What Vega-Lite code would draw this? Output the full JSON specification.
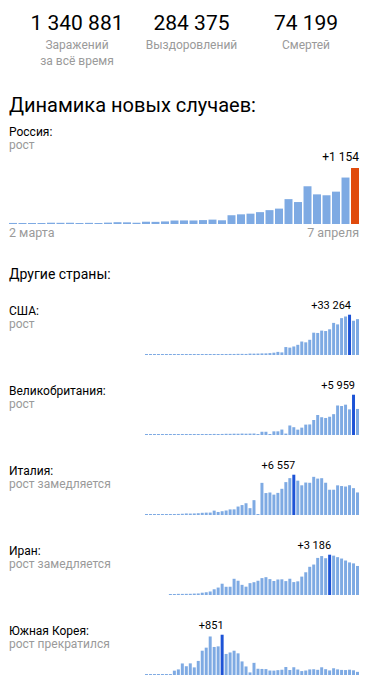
{
  "$schema": "https://vega.github.io/schema/vega-lite/v6.json",
  "padding": {"left": 8, "top": 0, "right": 9, "bottom": 0},
  "autosize": {"type": "pad"},
  "background": "white",
  "config": {
    "locale": {"number": {"decimal": ",", "thousands": " ", "grouping": [3], "currency": ["", ""]}},
    "font": "Roboto",
    "view": {"stroke": null},
    "concat": {"spacing": 0},
    "title": {"anchor": "start", "frame": "group", "fontWeight": "normal", "color": "#000000", "subtitleColor": "#9a9a9a", "font": "Roboto", "subtitleFont": "Roboto"}
  },
  "datasets": {
    "stats": [
      {"k": "Заражений\nза всё время", "n": 1340881},
      {"k": "Выздоровлений", "n": 284375},
      {"k": "Смертей", "n": 74199}
    ],
    "russia": [
      {"d": "03-02", "v": 1}, {"d": "03-03", "v": 0}, {"d": "03-04", "v": 0}, {"d": "03-05", "v": 1},
      {"d": "03-06", "v": 6}, {"d": "03-07", "v": 4}, {"d": "03-08", "v": 3}, {"d": "03-09", "v": 0},
      {"d": "03-10", "v": 3}, {"d": "03-11", "v": 0}, {"d": "03-12", "v": 8}, {"d": "03-13", "v": 17},
      {"d": "03-14", "v": 14}, {"d": "03-15", "v": 4}, {"d": "03-16", "v": 27}, {"d": "03-17", "v": 24},
      {"d": "03-18", "v": 33}, {"d": "03-19", "v": 52}, {"d": "03-20", "v": 54}, {"d": "03-21", "v": 53},
      {"d": "03-22", "v": 61}, {"d": "03-23", "v": 71}, {"d": "03-24", "v": 57}, {"d": "03-25", "v": 163},
      {"d": "03-26", "v": 182}, {"d": "03-27", "v": 196}, {"d": "03-28", "v": 228}, {"d": "03-29", "v": 270},
      {"d": "03-30", "v": 302}, {"d": "03-31", "v": 501}, {"d": "04-01", "v": 440}, {"d": "04-02", "v": 771},
      {"d": "04-03", "v": 601}, {"d": "04-04", "v": 582}, {"d": "04-05", "v": 658}, {"d": "04-06", "v": 954},
      {"d": "04-07", "v": 1154}
    ],
    "countries": [
      {"c": "США", "d": "02-13", "v": 0}, {"c": "США", "d": "02-14", "v": 0}, {"c": "США", "d": "02-15", "v": 0}, {"c": "США", "d": "02-16", "v": 0},
      {"c": "США", "d": "02-17", "v": 0}, {"c": "США", "d": "02-18", "v": 0}, {"c": "США", "d": "02-19", "v": 0}, {"c": "США", "d": "02-20", "v": 0},
      {"c": "США", "d": "02-21", "v": 20}, {"c": "США", "d": "02-22", "v": 0}, {"c": "США", "d": "02-23", "v": 0}, {"c": "США", "d": "02-24", "v": 18},
      {"c": "США", "d": "02-25", "v": 0}, {"c": "США", "d": "02-26", "v": 6}, {"c": "США", "d": "02-27", "v": 1}, {"c": "США", "d": "02-28", "v": 2},
      {"c": "США", "d": "02-29", "v": 8}, {"c": "США", "d": "03-01", "v": 6}, {"c": "США", "d": "03-02", "v": 25}, {"c": "США", "d": "03-03", "v": 21},
      {"c": "США", "d": "03-04", "v": 31}, {"c": "США", "d": "03-05", "v": 68}, {"c": "США", "d": "03-06", "v": 57}, {"c": "США", "d": "03-07", "v": 139},
      {"c": "США", "d": "03-08", "v": 120}, {"c": "США", "d": "03-09", "v": 68}, {"c": "США", "d": "03-10", "v": 354}, {"c": "США", "d": "03-11", "v": 322},
      {"c": "США", "d": "03-12", "v": 382}, {"c": "США", "d": "03-13", "v": 516}, {"c": "США", "d": "03-14", "v": 547}, {"c": "США", "d": "03-15", "v": 773},
      {"c": "США", "d": "03-16", "v": 1133}, {"c": "США", "d": "03-17", "v": 1789}, {"c": "США", "d": "03-18", "v": 1365}, {"c": "США", "d": "03-19", "v": 5894},
      {"c": "США", "d": "03-20", "v": 5421}, {"c": "США", "d": "03-21", "v": 6392}, {"c": "США", "d": "03-22", "v": 7783}, {"c": "США", "d": "03-23", "v": 10567},
      {"c": "США", "d": "03-24", "v": 9893}, {"c": "США", "d": "03-25", "v": 12042}, {"c": "США", "d": "03-26", "v": 18058}, {"c": "США", "d": "03-27", "v": 17821},
      {"c": "США", "d": "03-28", "v": 19808}, {"c": "США", "d": "03-29", "v": 19444}, {"c": "США", "d": "03-30", "v": 20922}, {"c": "США", "d": "03-31", "v": 26341},
      {"c": "США", "d": "04-01", "v": 25070}, {"c": "США", "d": "04-02", "v": 30380}, {"c": "США", "d": "04-03", "v": 31745}, {"c": "США", "d": "04-04", "v": 33264},
      {"c": "США", "d": "04-05", "v": 28152}, {"c": "США", "d": "04-06", "v": 29515},

      {"c": "UK", "d": "02-13", "v": 0}, {"c": "UK", "d": "02-14", "v": 0}, {"c": "UK", "d": "02-15", "v": 0}, {"c": "UK", "d": "02-16", "v": 0},
      {"c": "UK", "d": "02-17", "v": 0}, {"c": "UK", "d": "02-18", "v": 0}, {"c": "UK", "d": "02-19", "v": 0}, {"c": "UK", "d": "02-20", "v": 0},
      {"c": "UK", "d": "02-21", "v": 0}, {"c": "UK", "d": "02-22", "v": 0}, {"c": "UK", "d": "02-23", "v": 0}, {"c": "UK", "d": "02-24", "v": 0},
      {"c": "UK", "d": "02-25", "v": 4}, {"c": "UK", "d": "02-26", "v": 0}, {"c": "UK", "d": "02-27", "v": 2}, {"c": "UK", "d": "02-28", "v": 5},
      {"c": "UK", "d": "02-29", "v": 3}, {"c": "UK", "d": "03-01", "v": 13}, {"c": "UK", "d": "03-02", "v": 4}, {"c": "UK", "d": "03-03", "v": 11},
      {"c": "UK", "d": "03-04", "v": 34}, {"c": "UK", "d": "03-05", "v": 30}, {"c": "UK", "d": "03-06", "v": 48}, {"c": "UK", "d": "03-07", "v": 43},
      {"c": "UK", "d": "03-08", "v": 67}, {"c": "UK", "d": "03-09", "v": 48}, {"c": "UK", "d": "03-10", "v": 61}, {"c": "UK", "d": "03-11", "v": 74},
      {"c": "UK", "d": "03-12", "v": 0}, {"c": "UK", "d": "03-13", "v": 342}, {"c": "UK", "d": "03-14", "v": 342}, {"c": "UK", "d": "03-15", "v": 0},
      {"c": "UK", "d": "03-16", "v": 403}, {"c": "UK", "d": "03-17", "v": 407}, {"c": "UK", "d": "03-18", "v": 676}, {"c": "UK", "d": "03-19", "v": 63},
      {"c": "UK", "d": "03-20", "v": 1294}, {"c": "UK", "d": "03-21", "v": 1035}, {"c": "UK", "d": "03-22", "v": 665}, {"c": "UK", "d": "03-23", "v": 967},
      {"c": "UK", "d": "03-24", "v": 1427}, {"c": "UK", "d": "03-25", "v": 1452}, {"c": "UK", "d": "03-26", "v": 2129}, {"c": "UK", "d": "03-27", "v": 2885},
      {"c": "UK", "d": "03-28", "v": 2546}, {"c": "UK", "d": "03-29", "v": 2433}, {"c": "UK", "d": "03-30", "v": 2619}, {"c": "UK", "d": "03-31", "v": 3009},
      {"c": "UK", "d": "04-01", "v": 4324}, {"c": "UK", "d": "04-02", "v": 4244}, {"c": "UK", "d": "04-03", "v": 4450}, {"c": "UK", "d": "04-04", "v": 3735},
      {"c": "UK", "d": "04-05", "v": 5959}, {"c": "UK", "d": "04-06", "v": 3802},

      {"c": "IT", "d": "02-13", "v": 0}, {"c": "IT", "d": "02-14", "v": 0}, {"c": "IT", "d": "02-15", "v": 0}, {"c": "IT", "d": "02-16", "v": 0},
      {"c": "IT", "d": "02-17", "v": 0}, {"c": "IT", "d": "02-18", "v": 0}, {"c": "IT", "d": "02-19", "v": 0}, {"c": "IT", "d": "02-20", "v": 0},
      {"c": "IT", "d": "02-21", "v": 17}, {"c": "IT", "d": "02-22", "v": 42}, {"c": "IT", "d": "02-23", "v": 93}, {"c": "IT", "d": "02-24", "v": 74},
      {"c": "IT", "d": "02-25", "v": 93}, {"c": "IT", "d": "02-26", "v": 131}, {"c": "IT", "d": "02-27", "v": 202}, {"c": "IT", "d": "02-28", "v": 233},
      {"c": "IT", "d": "02-29", "v": 240}, {"c": "IT", "d": "03-01", "v": 566}, {"c": "IT", "d": "03-02", "v": 342}, {"c": "IT", "d": "03-03", "v": 466},
      {"c": "IT", "d": "03-04", "v": 587}, {"c": "IT", "d": "03-05", "v": 769}, {"c": "IT", "d": "03-06", "v": 778}, {"c": "IT", "d": "03-07", "v": 1247},
      {"c": "IT", "d": "03-08", "v": 1492}, {"c": "IT", "d": "03-09", "v": 1797}, {"c": "IT", "d": "03-10", "v": 977}, {"c": "IT", "d": "03-11", "v": 2313},
      {"c": "IT", "d": "03-12", "v": 0}, {"c": "IT", "d": "03-13", "v": 5198}, {"c": "IT", "d": "03-14", "v": 3497}, {"c": "IT", "d": "03-15", "v": 3590},
      {"c": "IT", "d": "03-16", "v": 3233}, {"c": "IT", "d": "03-17", "v": 3526}, {"c": "IT", "d": "03-18", "v": 4207}, {"c": "IT", "d": "03-19", "v": 5322},
      {"c": "IT", "d": "03-20", "v": 5986}, {"c": "IT", "d": "03-21", "v": 6557}, {"c": "IT", "d": "03-22", "v": 5560}, {"c": "IT", "d": "03-23", "v": 4789},
      {"c": "IT", "d": "03-24", "v": 5249}, {"c": "IT", "d": "03-25", "v": 5210}, {"c": "IT", "d": "03-26", "v": 6203}, {"c": "IT", "d": "03-27", "v": 5909},
      {"c": "IT", "d": "03-28", "v": 5974}, {"c": "IT", "d": "03-29", "v": 5217}, {"c": "IT", "d": "03-30", "v": 4050}, {"c": "IT", "d": "03-31", "v": 4053},
      {"c": "IT", "d": "04-01", "v": 4782}, {"c": "IT", "d": "04-02", "v": 4668}, {"c": "IT", "d": "04-03", "v": 4585}, {"c": "IT", "d": "04-04", "v": 4805},
      {"c": "IT", "d": "04-05", "v": 4316}, {"c": "IT", "d": "04-06", "v": 3599},

      {"c": "IR", "d": "02-19", "v": 2}, {"c": "IR", "d": "02-20", "v": 3},
      {"c": "IR", "d": "02-21", "v": 13}, {"c": "IR", "d": "02-22", "v": 10}, {"c": "IR", "d": "02-23", "v": 15}, {"c": "IR", "d": "02-24", "v": 18},
      {"c": "IR", "d": "02-25", "v": 34}, {"c": "IR", "d": "02-26", "v": 44}, {"c": "IR", "d": "02-27", "v": 106}, {"c": "IR", "d": "02-28", "v": 143},
      {"c": "IR", "d": "02-29", "v": 205}, {"c": "IR", "d": "03-01", "v": 385}, {"c": "IR", "d": "03-02", "v": 523}, {"c": "IR", "d": "03-03", "v": 835},
      {"c": "IR", "d": "03-04", "v": 586}, {"c": "IR", "d": "03-05", "v": 591}, {"c": "IR", "d": "03-06", "v": 1234}, {"c": "IR", "d": "03-07", "v": 1076},
      {"c": "IR", "d": "03-08", "v": 743}, {"c": "IR", "d": "03-09", "v": 595}, {"c": "IR", "d": "03-10", "v": 881}, {"c": "IR", "d": "03-11", "v": 958},
      {"c": "IR", "d": "03-12", "v": 1075}, {"c": "IR", "d": "03-13", "v": 1289}, {"c": "IR", "d": "03-14", "v": 1365}, {"c": "IR", "d": "03-15", "v": 1209},
      {"c": "IR", "d": "03-16", "v": 1053}, {"c": "IR", "d": "03-17", "v": 1178}, {"c": "IR", "d": "03-18", "v": 1192}, {"c": "IR", "d": "03-19", "v": 1046},
      {"c": "IR", "d": "03-20", "v": 1237}, {"c": "IR", "d": "03-21", "v": 966}, {"c": "IR", "d": "03-22", "v": 1028}, {"c": "IR", "d": "03-23", "v": 1411},
      {"c": "IR", "d": "03-24", "v": 1762}, {"c": "IR", "d": "03-25", "v": 2206}, {"c": "IR", "d": "03-26", "v": 2389}, {"c": "IR", "d": "03-27", "v": 2926},
      {"c": "IR", "d": "03-28", "v": 3076}, {"c": "IR", "d": "03-29", "v": 2901}, {"c": "IR", "d": "03-30", "v": 3186}, {"c": "IR", "d": "03-31", "v": 3110},
      {"c": "IR", "d": "04-01", "v": 2988}, {"c": "IR", "d": "04-02", "v": 2875}, {"c": "IR", "d": "04-03", "v": 2715}, {"c": "IR", "d": "04-04", "v": 2560},
      {"c": "IR", "d": "04-05", "v": 2483}, {"c": "IR", "d": "04-06", "v": 2274},

      {"c": "KR", "d": "02-13", "v": 0}, {"c": "KR", "d": "02-14", "v": 0}, {"c": "KR", "d": "02-15", "v": 0}, {"c": "KR", "d": "02-16", "v": 1},
      {"c": "KR", "d": "02-17", "v": 1}, {"c": "KR", "d": "02-18", "v": 1}, {"c": "KR", "d": "02-19", "v": 0}, {"c": "KR", "d": "02-20", "v": 73},
      {"c": "KR", "d": "02-21", "v": 100}, {"c": "KR", "d": "02-22", "v": 229}, {"c": "KR", "d": "02-23", "v": 169}, {"c": "KR", "d": "02-24", "v": 231},
      {"c": "KR", "d": "02-25", "v": 144}, {"c": "KR", "d": "02-26", "v": 284}, {"c": "KR", "d": "02-27", "v": 505}, {"c": "KR", "d": "02-28", "v": 571},
      {"c": "KR", "d": "02-29", "v": 813}, {"c": "KR", "d": "03-01", "v": 586}, {"c": "KR", "d": "03-02", "v": 599}, {"c": "KR", "d": "03-03", "v": 851},
      {"c": "KR", "d": "03-04", "v": 435}, {"c": "KR", "d": "03-05", "v": 467}, {"c": "KR", "d": "03-06", "v": 505}, {"c": "KR", "d": "03-07", "v": 448},
      {"c": "KR", "d": "03-08", "v": 273}, {"c": "KR", "d": "03-09", "v": 164}, {"c": "KR", "d": "03-10", "v": 35}, {"c": "KR", "d": "03-11", "v": 242},
      {"c": "KR", "d": "03-12", "v": 114}, {"c": "KR", "d": "03-13", "v": 110}, {"c": "KR", "d": "03-14", "v": 107}, {"c": "KR", "d": "03-15", "v": 76},
      {"c": "KR", "d": "03-16", "v": 74}, {"c": "KR", "d": "03-17", "v": 84}, {"c": "KR", "d": "03-18", "v": 93}, {"c": "KR", "d": "03-19", "v": 152},
      {"c": "KR", "d": "03-20", "v": 87}, {"c": "KR", "d": "03-21", "v": 147}, {"c": "KR", "d": "03-22", "v": 98}, {"c": "KR", "d": "03-23", "v": 64},
      {"c": "KR", "d": "03-24", "v": 76}, {"c": "KR", "d": "03-25", "v": 100}, {"c": "KR", "d": "03-26", "v": 104}, {"c": "KR", "d": "03-27", "v": 91},
      {"c": "KR", "d": "03-28", "v": 146}, {"c": "KR", "d": "03-29", "v": 105}, {"c": "KR", "d": "03-30", "v": 78}, {"c": "KR", "d": "03-31", "v": 125},
      {"c": "KR", "d": "04-01", "v": 101}, {"c": "KR", "d": "04-02", "v": 89}, {"c": "KR", "d": "04-03", "v": 86}, {"c": "KR", "d": "04-04", "v": 94},
      {"c": "KR", "d": "04-05", "v": 81}, {"c": "KR", "d": "04-06", "v": 47}
    ]
  },
  "spacing": 29,
  "vconcat": [
    {
      "width": 350, "height": 66,
      "data": {"name": "stats"},
      "encoding": {"x": {"field": "k", "type": "nominal", "sort": null, "scale": {"type": "point", "range": [68, 297], "padding": 0}, "axis": null}},
      "layer": [
        {"mark": {"type": "text", "fontSize": 21, "color": "#000000", "baseline": "middle", "dy": -9},
         "encoding": {"text": {"field": "n", "type": "quantitative", "format": ","}}},
        {"mark": {"type": "text", "fontSize": 12, "color": "#9a9a9a", "baseline": "top", "dy": 7, "lineBreak": "\n", "lineHeight": 16},
         "encoding": {"text": {"field": "k", "type": "nominal"}}}
      ]
    },
    {
      "title": {"text": "Динамика новых случаев:", "fontSize": 20, "offset": 10},
      "vconcat": [
        {
          "width": 350, "height": 69,
          "data": {"name": "russia"},
          "title": {"text": "Россия:", "subtitle": "рост", "fontSize": 12, "subtitleFontSize": 12, "subtitlePadding": 1, "offset": -1},
          "transform": [{"joinaggregate": [{"op": "max", "field": "v", "as": "m"}]}],
          "encoding": {"x": {"field": "d", "type": "ordinal", "scale": {"paddingInner": 0.16, "paddingOuter": 0},
            "axis": {"values": ["03-02", "04-07"], "labelExpr": "datum.value == '03-02' ? '2 марта' : '7 апреля'", "title": null, "domain": false, "ticks": false, "labelAngle": 0, "labelFontSize": 12.5, "labelColor": "#9a9a9a", "labelPadding": 2, "labelFont": "Roboto",
              "labelAlign": {"condition": {"test": "datum.value == '03-02'", "value": "left"}, "value": "right"},
              "labelOffset": {"condition": {"test": "datum.value == '03-02'", "value": -4}, "value": 4}}}},
          "layer": [
            {"mark": {"type": "bar"},
             "encoding": {"y": {"field": "v", "type": "quantitative", "scale": {"domain": [-21, 1427], "nice": false, "zero": false}, "axis": null},
               "y2": {"datum": -21},
               "color": {"condition": {"test": "datum.v == datum.m", "value": "#e04a0c"}, "value": "#7eaae3"}}},
            {"transform": [{"filter": "datum.v == datum.m"}],
             "mark": {"type": "text", "align": "right", "baseline": "bottom", "dy": -4, "fontSize": 12, "color": "#000000"},
             "encoding": {"x": {"field": "d", "type": "ordinal", "bandPosition": 1}, "y": {"field": "v", "type": "quantitative"}, "text": {"field": "v", "type": "quantitative", "format": "+,"}}}
          ]
        }
      ]
    },
    {
      "title": {"text": "Другие страны:", "fontSize": 14, "offset": 16},
      "spacing": 23,
      "resolve": {"scale": {"x": "shared"}},
      "vconcat": [
        {
          "width": 350, "height": 57, "data": {"name": "countries"},
          "title": {"text": "США:", "subtitle": "рост", "fontSize": 12, "subtitleFontSize": 12, "subtitlePadding": 1, "offset": -33},
          "transform": [{"filter": "datum.c == 'США'"}, {"joinaggregate": [{"op": "max", "field": "v", "as": "m"}]}],
          "encoding": {"x": {"field": "d", "type": "ordinal", "scale": {"range": [136, 350], "paddingInner": 0.25, "paddingOuter": 0}, "axis": null}},
          "layer": [
            {"mark": {"type": "bar"},
             "encoding": {"y": {"field": "v", "type": "quantitative", "scale": {"domain": [-832, 47401], "nice": false, "zero": false}, "axis": null},
               "y2": {"datum": -832},
               "color": {"condition": {"test": "datum.v == datum.m", "value": "#1d53d6"}, "value": "#7eaae3"}}},
            {"transform": [{"filter": "datum.v == datum.m"}],
             "mark": {"type": "text", "align": "right", "baseline": "bottom", "dy": -4, "fontSize": 11, "color": "#000000"},
             "encoding": {"x": {"field": "d", "type": "ordinal", "bandPosition": 1}, "y": {"field": "v", "type": "quantitative"}, "text": {"field": "v", "type": "quantitative", "format": "+,"}}}
          ]
        },
        {
          "width": 350, "height": 57, "data": {"name": "countries"},
          "title": {"text": "Великобритания:", "subtitle": "рост", "fontSize": 12, "subtitleFontSize": 12, "subtitlePadding": 1, "offset": -33},
          "transform": [{"filter": "datum.c == 'UK'"}, {"joinaggregate": [{"op": "max", "field": "v", "as": "m"}]}],
          "encoding": {"x": {"field": "d", "type": "ordinal", "scale": {"range": [136, 350], "paddingInner": 0.25, "paddingOuter": 0}, "axis": null}},
          "layer": [
            {"mark": {"type": "bar"},
             "encoding": {"y": {"field": "v", "type": "quantitative", "scale": {"domain": [-149, 8492], "nice": false, "zero": false}, "axis": null},
               "y2": {"datum": -149},
               "color": {"condition": {"test": "datum.v == datum.m", "value": "#1d53d6"}, "value": "#7eaae3"}}},
            {"transform": [{"filter": "datum.v == datum.m"}],
             "mark": {"type": "text", "align": "right", "baseline": "bottom", "dy": -4, "fontSize": 11, "color": "#000000"},
             "encoding": {"x": {"field": "d", "type": "ordinal", "bandPosition": 1}, "y": {"field": "v", "type": "quantitative"}, "text": {"field": "v", "type": "quantitative", "format": "+,"}}}
          ]
        },
        {
          "width": 350, "height": 57, "data": {"name": "countries"},
          "title": {"text": "Италия:", "subtitle": "рост замедляется", "fontSize": 12, "subtitleFontSize": 12, "subtitlePadding": 1, "offset": -33},
          "transform": [{"filter": "datum.c == 'IT'"}, {"joinaggregate": [{"op": "max", "field": "v", "as": "m"}]}],
          "encoding": {"x": {"field": "d", "type": "ordinal", "scale": {"range": [136, 350], "paddingInner": 0.25, "paddingOuter": 0}, "axis": null}},
          "layer": [
            {"mark": {"type": "bar"},
             "encoding": {"y": {"field": "v", "type": "quantitative", "scale": {"domain": [-164, 9344], "nice": false, "zero": false}, "axis": null},
               "y2": {"datum": -164},
               "color": {"condition": {"test": "datum.v == datum.m", "value": "#1d53d6"}, "value": "#7eaae3"}}},
            {"transform": [{"filter": "datum.v == datum.m"}],
             "mark": {"type": "text", "align": "right", "baseline": "bottom", "dy": -4, "fontSize": 11, "color": "#000000"},
             "encoding": {"x": {"field": "d", "type": "ordinal", "bandPosition": 1}, "y": {"field": "v", "type": "quantitative"}, "text": {"field": "v", "type": "quantitative", "format": "+,"}}}
          ]
        },
        {
          "width": 350, "height": 57, "data": {"name": "countries"},
          "title": {"text": "Иран:", "subtitle": "рост замедляется", "fontSize": 12, "subtitleFontSize": 12, "subtitlePadding": 1, "offset": -33},
          "transform": [{"filter": "datum.c == 'IR'"}, {"joinaggregate": [{"op": "max", "field": "v", "as": "m"}]}],
          "encoding": {"x": {"field": "d", "type": "ordinal", "scale": {"range": [136, 350], "paddingInner": 0.25, "paddingOuter": 0}, "axis": null}},
          "layer": [
            {"mark": {"type": "bar"},
             "encoding": {"y": {"field": "v", "type": "quantitative", "scale": {"domain": [-80, 4540], "nice": false, "zero": false}, "axis": null},
               "y2": {"datum": -80},
               "color": {"condition": {"test": "datum.v == datum.m", "value": "#1d53d6"}, "value": "#7eaae3"}}},
            {"transform": [{"filter": "datum.v == datum.m"}],
             "mark": {"type": "text", "align": "right", "baseline": "bottom", "dy": -4, "fontSize": 11, "color": "#000000"},
             "encoding": {"x": {"field": "d", "type": "ordinal", "bandPosition": 1}, "y": {"field": "v", "type": "quantitative"}, "text": {"field": "v", "type": "quantitative", "format": "+,"}}}
          ]
        },
        {
          "width": 350, "height": 57, "data": {"name": "countries"},
          "title": {"text": "Южная Корея:", "subtitle": "рост прекратился", "fontSize": 12, "subtitleFontSize": 12, "subtitlePadding": 1, "offset": -33},
          "transform": [{"filter": "datum.c == 'KR'"}, {"joinaggregate": [{"op": "max", "field": "v", "as": "m"}]}],
          "encoding": {"x": {"field": "d", "type": "ordinal", "scale": {"range": [136, 350], "paddingInner": 0.25, "paddingOuter": 0}, "axis": null}},
          "layer": [
            {"mark": {"type": "bar"},
             "encoding": {"y": {"field": "v", "type": "quantitative", "scale": {"domain": [-21, 1213], "nice": false, "zero": false}, "axis": null},
               "y2": {"datum": -21},
               "color": {"condition": {"test": "datum.v == datum.m", "value": "#1d53d6"}, "value": "#7eaae3"}}},
            {"transform": [{"filter": "datum.v == datum.m"}],
             "mark": {"type": "text", "align": "right", "baseline": "bottom", "dy": -4, "fontSize": 11, "color": "#000000"},
             "encoding": {"x": {"field": "d", "type": "ordinal", "bandPosition": 1}, "y": {"field": "v", "type": "quantitative"}, "text": {"field": "v", "type": "quantitative", "format": "+,"}}}
          ]
        }
      ]
    }
  ]
}
